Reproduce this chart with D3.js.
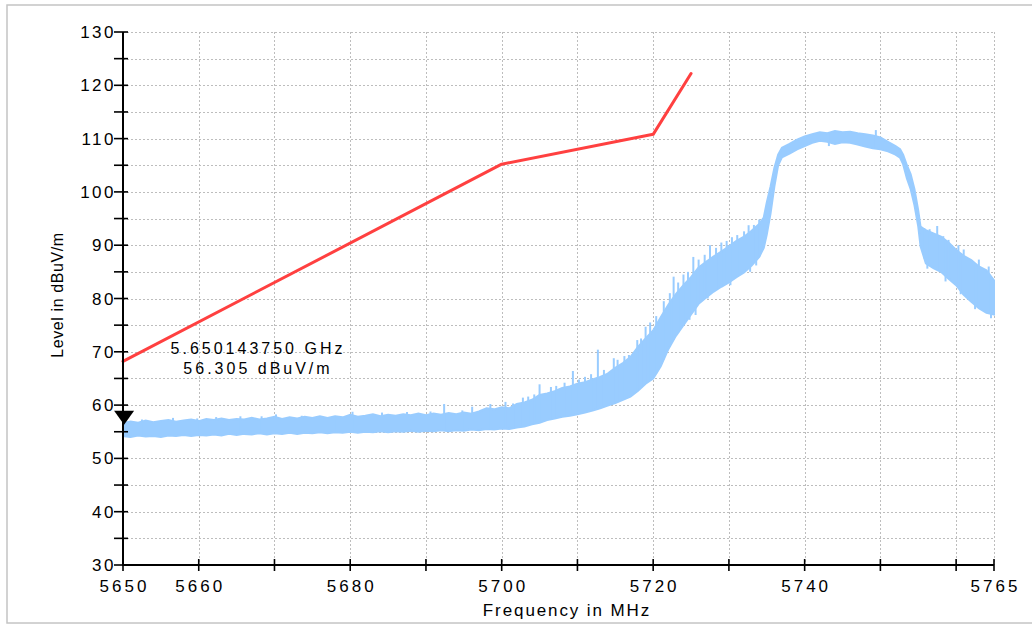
<!DOCTYPE html>
<html><head><meta charset="utf-8">
<script src="https://cdn.jsdelivr.net/npm/d3@7"></script>
<style>
html,body{margin:0;padding:0;background:#fff;}
svg text{font-family:"Liberation Sans",Arial,sans-serif;fill:#000;}
</style></head>
<body><svg id="chart" width="1032" height="624"></svg>
<script>
// ---- data ----
const xTicks = [5650,5660,5670,5680,5690,5700,5710,5720,5730,5740,5750,5760,5765];
const xTickLabels = [5650,5660,5680,5700,5720,5740,5765];
const yTicks = [30,35,40,45,50,55,60,65,70,75,80,85,90,95,100,105,110,115,120,125,130];
const yTickLabels = [30,40,50,60,70,80,90,100,110,120,130];

// limit line (red)
const limitFreq = [5650,5700,5720,5725];
const limitLevel = [68.2,105.2,110.8,122.2];

// measured trace envelope (blue): frequency, lower level, upper level
const traceFreq = [5650,5651,5652,5653,5654,5655,5656,5657,5658,5659,5660,5661,5662,5663,5664,5665,5666,5667,5668,5669,5670,5671,5672,5673,5674,5675,5676,5677,5678,5679,5680,5681,5682,5683,5684,5685,5686,5687,5688,5689,5690,5691,5692,5693,5694,5695,5696,5697,5698,5699,5700,5701,5702,5703,5704,5705,5706,5707,5708,5709,5710,5711,5712,5713,5714,5715,5716,5717,5718,5719,5720,5721,5722,5723,5724,5725,5726,5727,5728,5729,5730,5731,5732,5733,5734,5734.6,5735,5735.5,5736,5736.5,5737,5738,5739,5740,5741,5742,5743,5744,5745,5746,5747,5748,5749,5750,5751,5752,5752.6,5753,5753.5,5754,5754.5,5755,5755.3,5756,5757,5758,5759,5760,5761,5762,5763,5764,5765];
const traceLow  = [54.2,54.0,54.3,54.1,54.2,54.0,54.3,54.2,54.4,54.2,54.4,54.3,54.5,54.3,54.6,54.4,54.6,54.5,54.7,54.5,54.7,54.6,54.8,54.6,54.8,54.7,54.9,54.7,54.9,54.8,55.0,54.8,55.0,54.9,55.1,54.9,55.1,55.0,55.2,55.0,55.2,55.1,55.3,55.1,55.3,55.2,55.4,55.3,55.5,55.4,55.6,55.5,55.8,56.0,56.4,56.7,57.2,57.5,57.8,58.0,58.3,58.6,59.0,59.4,59.9,60.4,61.0,61.6,62.7,64.0,65.0,67.3,70.5,73.0,75.0,77.0,79.0,80.2,81.3,82.2,83.0,84.0,84.9,86.2,87.8,89.5,92.0,96.0,101.0,105.0,106.5,107.2,108.0,108.6,109.2,109.6,109.4,109.0,109.3,109.2,108.9,108.5,108.2,108.0,107.6,107.0,106.4,105.2,102.5,100.5,97.5,93.5,89.8,86.6,85.7,85.0,83.7,82.5,80.7,79.4,78.2,77.3,77.0];
const traceHigh = [56.6,56.9,56.7,57.1,56.8,57.0,57.2,56.9,57.1,57.3,57.0,57.4,57.2,57.5,57.2,57.4,57.3,57.6,57.3,57.5,57.8,57.4,57.7,57.5,57.8,57.6,57.9,57.6,57.9,57.7,58.2,57.8,58.0,58.3,57.9,58.2,58.0,58.3,58.1,58.4,58.1,58.4,58.2,58.5,58.3,58.6,58.4,58.8,59.4,59.2,59.6,59.4,60.2,60.5,61.0,61.9,62.2,62.6,63.2,63.5,64.0,64.3,64.8,65.3,65.9,67.0,67.9,69.0,70.9,72.5,74.0,76.5,78.8,80.8,82.5,84.0,85.8,86.9,87.9,88.8,89.8,90.8,91.6,92.7,94.0,95.2,98.0,101.0,104.5,107.0,108.3,109.0,109.8,110.4,110.8,111.2,111.0,111.4,111.2,111.3,111.0,110.8,110.6,110.2,109.4,108.6,108.0,107.0,105.0,103.3,100.5,96.5,93.5,92.8,92.2,91.6,90.5,89.1,88.0,87.2,86.0,85.3,83.4];

// isolated peaks above the envelope
const spikeFreq  = [5652.5,5656.6,5659.8,5662.3,5665.5,5668.3,5670.2,5673.6,5677.9,5680.3,5684.2,5687.5,5690.6,5692.4,5694.8,5696.1,5698.5,5700.5,5701.5,5702.8,5703.5,5704.3,5705.0,5706.5,5707.2,5708.3,5709.4,5710.2,5711.0,5711.8,5712.7,5713.5,5714.8,5715.3,5716.2,5716.8,5717.9,5718.4,5719.0,5719.6,5720.4,5721.4,5722.2,5722.7,5723.3,5724.0,5724.6,5725.3,5726.0,5726.8,5727.5,5728.3,5729.0,5729.7,5730.4,5731.1,5732.0,5732.6,5733.3,5734.0,5749.4,5755.8,5756.5,5757.5,5758.3,5759.0,5760.3,5761.0,5762.0,5763.0,5764.3];
const spikeLevel = [57.3,57.6,57.5,57.75,57.9,57.9,58.25,58.0,57.9,58.75,58.6,58.7,58.8,60.2,59.0,59.7,60.2,60.6,60.3,61.4,61.6,62.0,63.9,63.4,63.6,64.2,66.4,64.8,65.3,65.8,70.4,66.6,68.8,68.5,69.2,69.4,72.2,72.5,74.7,75.5,76.7,79.5,81.0,84.1,83.0,84.5,85.0,87.8,87.3,88.2,90.0,89.5,90.5,90.8,91.5,91.9,92.6,93.75,93.8,94.8,111.6,93.2,93.0,93.6,91.7,91.0,90.0,89.2,86.9,87.3,86.0];
// isolated dips below the envelope
const dipFreq  = [5724.8,5725.6,5727.2,5730.2,5732.8,5733.6,5743.2,5756.2,5758.6,5760.6,5762.5,5764.6];
const dipLevel = [76.0,76.9,80.0,82.5,85.0,86.2,108.6,85.6,83.2,80.8,78.0,76.3];

// marker
const markerFreq = 5650.14375;
const markerLevel = 56.305;
const markerText = ["5.650143750 GHz","56.305 dBuV/m"];

const xTitle = "Frequency in MHz";
const yTitle = "Level in dBuV/m";

// ---- drawing ----
const svg = d3.select("#chart");
const L = 123, R = 994, T = 32, B = 565;
const x = d3.scaleLinear().domain([5650,5765]).range([L,R]);
const y = d3.scaleLinear().domain([30,130]).range([B,T]);

// frame
svg.append("rect").attr("x",7).attr("y",5).attr("width",1040).attr("height",618)
  .attr("fill","none").attr("stroke","#c4c4c4").attr("stroke-width",1.5);

// grid
const grid = svg.append("g").attr("stroke","#bdbdbd").attr("stroke-width",1).attr("stroke-dasharray","2,2");
grid.selectAll("line.h").data(yTicks.filter(v=>v>30)).enter().append("line")
  .attr("x1",L).attr("x2",R).attr("y1",d=>Math.round(y(d))+0.5).attr("y2",d=>Math.round(y(d))+0.5);
grid.selectAll("line.v").data(xTicks.filter(v=>v>5650)).enter().append("line")
  .attr("y1",T).attr("y2",B).attr("x1",d=>Math.round(x(d))+0.5).attr("x2",d=>Math.round(x(d))+0.5);

// blue trace
const blue = "#99ccff";
const tr = traceFreq.map((f,i)=>({f:f,lo:traceLow[i],hi:traceHigh[i]}));
const area = d3.area().x(d=>x(d.f)).y0(d=>y(d.lo)).y1(d=>y(d.hi));
svg.append("path").datum(tr).attr("d",area).attr("fill",blue).attr("stroke",blue).attr("stroke-width",2);
const trHi = d3.scaleLinear().domain(traceFreq).range(traceHigh);
const trLo = d3.scaleLinear().domain(traceFreq).range(traceLow);
svg.append("g").selectAll("line").data(spikeFreq.map((f,i)=>({f:f,v:spikeLevel[i]}))).enter().append("line")
  .attr("x1",d=>x(d.f)).attr("x2",d=>x(d.f)).attr("y1",d=>y(trLo(d.f))).attr("y2",d=>y(d.v))
  .attr("stroke",blue).attr("stroke-width",2);
svg.append("g").selectAll("line").data(dipFreq.map((f,i)=>({f:f,v:dipLevel[i]}))).enter().append("line")
  .attr("x1",d=>x(d.f)).attr("x2",d=>x(d.f)).attr("y1",d=>y(trHi(d.f))).attr("y2",d=>y(d.v))
  .attr("stroke",blue).attr("stroke-width",2);

// red limit
svg.append("path").datum(limitFreq.map((f,i)=>[f,limitLevel[i]]))
  .attr("d",d3.line().x(d=>x(d[0])).y(d=>y(d[1])))
  .attr("fill","none").attr("stroke","#ff4040").attr("stroke-width",3).attr("stroke-linejoin","round").attr("stroke-linecap","round");

// axes
const ax = svg.append("g").attr("stroke","#000");
ax.append("line").attr("x1",L).attr("x2",L).attr("y1",T).attr("y2",B+1).attr("stroke-width",2);
ax.append("line").attr("x1",L-1).attr("x2",R).attr("y1",B).attr("y2",B).attr("stroke-width",2);
ax.selectAll("line.yt").data(yTicks).enter().append("line")
  .attr("x1",L-9).attr("x2",L+5).attr("y1",d=>y(d)).attr("y2",d=>y(d)).attr("stroke-width",1.6);
ax.selectAll("line.xt").data(xTicks).enter().append("line")
  .attr("y1",B-6).attr("y2",B+6).attr("x1",d=>x(d)).attr("x2",d=>x(d)).attr("stroke-width",1.6);

svg.append("g").selectAll("text").data(yTickLabels).enter().append("text")
  .attr("x",L-7).attr("y",d=>y(d)+6).attr("text-anchor","end")
  .style("font-size","17px").style("letter-spacing","2.5px").text(d=>d);
svg.append("g").selectAll("text").data(xTickLabels).enter().append("text")
  .attr("x",d=>x(d)+1.5).attr("y",B+27).attr("text-anchor","middle")
  .style("font-size","17px").style("letter-spacing","3px").text(d=>d);

// titles
svg.append("text").attr("x",567).attr("y",616).attr("text-anchor","middle")
  .style("font-size","17px").style("letter-spacing","1.9px").text(xTitle);
svg.append("text").attr("transform","translate(63,295) rotate(-90)").attr("text-anchor","middle")
  .style("font-size","16px").style("letter-spacing","0.6px").text(yTitle);

// marker
const mx = x(markerFreq), my = y(markerLevel);
svg.append("path").attr("d",`M${mx-10},${my-14}L${mx+10},${my-14}L${mx},${my}Z`).attr("fill","#000");
svg.append("g").selectAll("text").data(markerText).enter().append("text")
  .attr("x",258).attr("y",(d,i)=>354+i*20).attr("text-anchor","middle")
  .style("font-size","16px").style("letter-spacing","3px").text(d=>d);
</script></body></html>
